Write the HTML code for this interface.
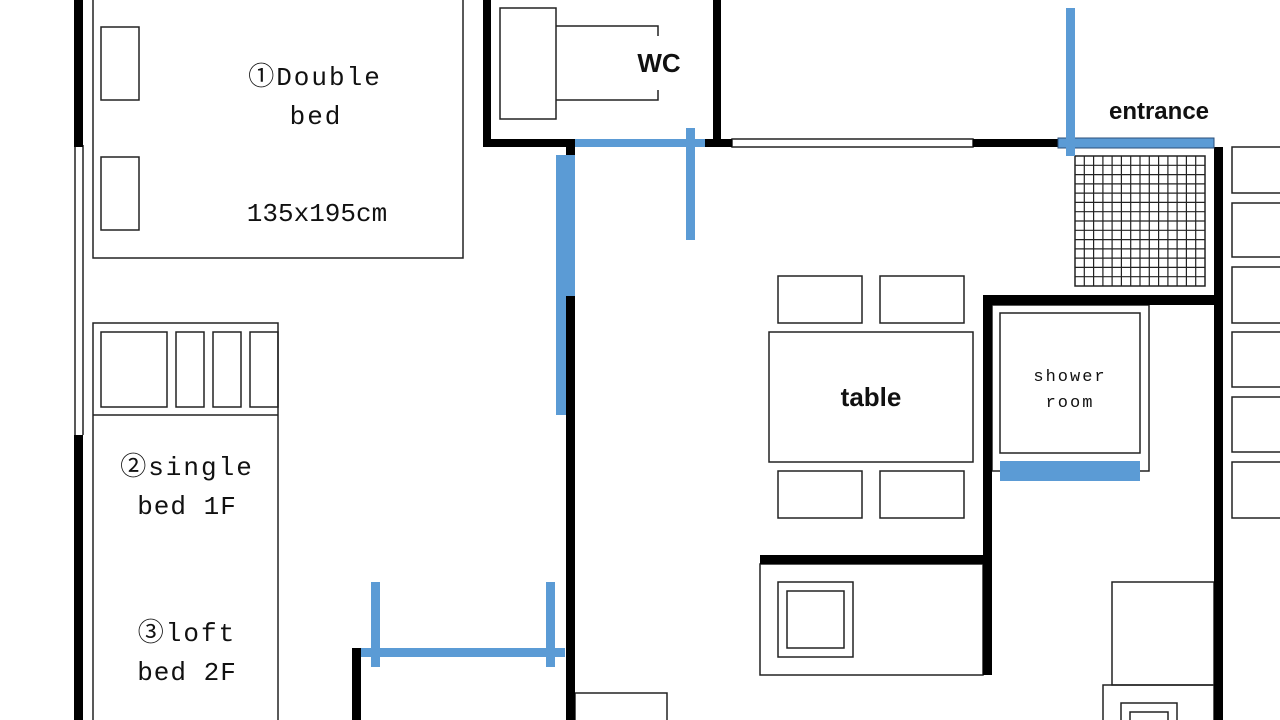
<!DOCTYPE html>
<html><head><meta charset="utf-8"><style>
html,body{margin:0;padding:0;background:#fff;}
svg{display:block;}
text{font-family:"Liberation Mono","Noto Sans CJK JP",monospace;fill:#111;}
.b{font-family:"Liberation Sans",sans-serif;font-weight:bold;}
</style></head><body>
<svg width="1280" height="720" viewBox="0 0 1280 720" xmlns="http://www.w3.org/2000/svg">
<rect width="1280" height="720" fill="#fff"/>
<g fill="none" stroke="#222" stroke-width="1.5">
<!-- left window -->
<line x1="75" y1="145" x2="75" y2="435"/><line x1="83" y1="145" x2="83" y2="435"/>
<!-- double bed -->
<rect x="93" y="-2" width="370" height="260"/>
<rect x="101" y="27" width="38" height="73"/><rect x="101" y="157" width="38" height="73"/>
<!-- single bed -->
<rect x="93" y="323" width="185" height="400"/>
<line x1="93" y1="415" x2="278" y2="415"/>
<rect x="101" y="332" width="66" height="75"/><rect x="176" y="332" width="28" height="75"/>
<rect x="213" y="332" width="28" height="75"/><rect x="250" y="332" width="28" height="75"/>
<!-- WC -->
<rect x="500" y="8" width="56" height="111"/>
<polyline points="556,26 658,26 658,36"/><polyline points="556,100 658,100 658,90"/>
<!-- window top -->
<rect x="732" y="139" width="241" height="8"/>
<!-- grid -->
<rect x="1075" y="156" width="130" height="130"/>
<path d="M1084.3 156V286M1093.6 156V286M1102.9 156V286M1112.1 156V286M1121.4 156V286M1130.7 156V286M1140 156V286M1149.3 156V286M1158.6 156V286M1167.9 156V286M1177.1 156V286M1186.4 156V286M1195.7 156V286M1075 165.3H1205M1075 174.6H1205M1075 183.9H1205M1075 193.1H1205M1075 202.4H1205M1075 211.7H1205M1075 221H1205M1075 230.3H1205M1075 239.6H1205M1075 248.9H1205M1075 258.1H1205M1075 267.4H1205M1075 276.7H1205" stroke-width="1.2"/>
<!-- right side rects -->
<rect x="1232" y="147" width="60" height="46"/><rect x="1232" y="203" width="60" height="54"/>
<rect x="1232" y="267" width="60" height="56"/><rect x="1232" y="332" width="60" height="55"/>
<rect x="1232" y="397" width="60" height="55"/><rect x="1232" y="462" width="60" height="56"/>
<!-- shower -->
<rect x="992" y="305" width="157" height="166"/>
<rect x="1000" y="313" width="140" height="140"/>
<!-- table -->
<rect x="769" y="332" width="204" height="130"/>
<rect x="778" y="276" width="84" height="47"/><rect x="880" y="276" width="84" height="47"/>
<rect x="778" y="471" width="84" height="47"/><rect x="880" y="471" width="84" height="47"/>
<!-- kitchen -->
<rect x="760" y="564" width="223" height="111"/>
<rect x="778" y="582" width="75" height="75"/><rect x="787" y="591" width="57" height="57"/>
<!-- bottom right -->
<rect x="1112" y="582" width="102" height="103"/>
<rect x="1103" y="685" width="111" height="40"/>
<rect x="1121" y="703" width="56" height="30"/><rect x="1130" y="712" width="38" height="20"/>
<rect x="575" y="693" width="92" height="30"/>
</g>
<g fill="#000">
<rect x="74" y="0" width="9" height="147"/>
<rect x="74" y="435" width="9" height="285"/>
<rect x="483" y="0" width="8" height="147"/>
<rect x="483" y="139" width="92" height="8"/>
<rect x="713" y="0" width="8" height="147"/>
<rect x="705" y="139" width="27" height="8"/>
<rect x="973" y="139" width="85" height="8"/>
<rect x="1214" y="147" width="9" height="573"/>
<rect x="983" y="295" width="240" height="10"/>
<rect x="983" y="295" width="9" height="380"/>
<rect x="760" y="555" width="232" height="9"/>
<rect x="566" y="147" width="9" height="8"/>
<rect x="566" y="296" width="9" height="424"/>
<rect x="352" y="648" width="9" height="72"/>
</g>
<g fill="#5b9bd5">
<rect x="575" y="139" width="130" height="8"/>
<rect x="686" y="128" width="9" height="112"/>
<rect x="1058" y="138" width="156" height="10" stroke="#2b4f7a" stroke-width="1"/>
<rect x="1066" y="8" width="9" height="148"/>
<rect x="556" y="155" width="19" height="141"/>
<rect x="556" y="296" width="10" height="119"/>
<rect x="1000" y="461" width="140" height="20"/>
<rect x="361" y="648" width="204" height="9"/>
<rect x="371" y="582" width="9" height="85"/>
<rect x="546" y="582" width="9" height="85"/>
</g>
<g font-size="26" text-anchor="middle">
<text x="315" y="85" letter-spacing="2">①Double</text>
<text x="316" y="124" letter-spacing="2">bed</text>
<text x="317" y="221">135x195cm</text>
<text x="187" y="475" letter-spacing="2">②single</text>
<text x="187" y="514" letter-spacing="1">bed 1F</text>
<text x="187" y="641" letter-spacing="2">③loft</text>
<text x="187" y="680" letter-spacing="1">bed 2F</text>
<text x="1070" y="381" font-size="17" letter-spacing="2">shower</text>
<text x="1070" y="407" font-size="17" letter-spacing="2">room</text>
</g>
<g class="b" text-anchor="middle">
<text class="b" x="659" y="72" font-size="26">WC</text>
<text class="b" x="1159" y="119" font-size="24">entrance</text>
<text class="b" x="871" y="406" font-size="26">table</text>
</g>
</svg>
</body></html>
